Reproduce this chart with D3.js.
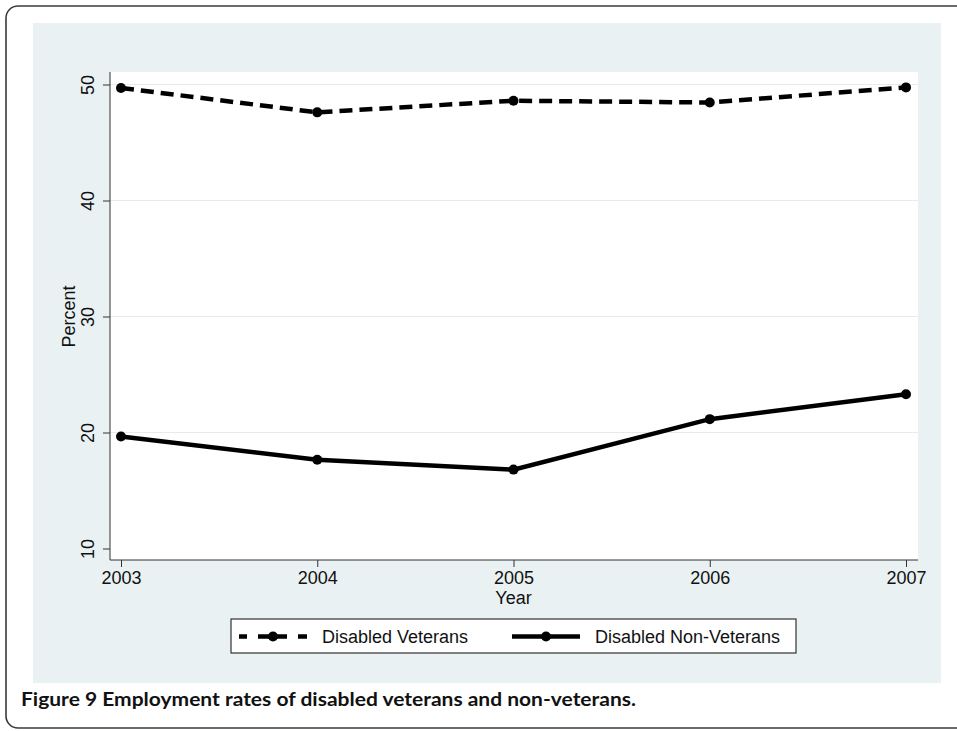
<!DOCTYPE html>
<html>
<head>
<meta charset="utf-8">
<script src="https://cdn.jsdelivr.net/npm/d3@7"></script>
<style>
  html, body { margin: 0; padding: 0; background: #ffffff; }
  svg { display: block; }
  text { font-family: "Liberation Sans", Arial, Helvetica, sans-serif; fill: #111; }
</style>
</head>
<body>
<svg id="chart" width="957" height="731"></svg>
<script>
// ---- data ----
const years = [2003, 2004, 2005, 2006, 2007];
const veterans = [49.7, 47.6, 48.6, 48.45, 49.75];
const nonVeterans = [19.65, 17.65, 16.8, 21.15, 23.3];
const yTicks = [10, 20, 30, 40, 50];
const seriesNames = ["Disabled Veterans", "Disabled Non-Veterans"];
const caption = "Figure 9 Employment rates of disabled veterans and non-veterans.";

const svg = d3.select("#chart");

// outer frame
svg.append("rect")
  .attr("x", 6).attr("y", 6).attr("width", 1000).attr("height", 722)
  .attr("rx", 12).attr("ry", 12)
  .attr("fill", "#ffffff").attr("stroke", "#3a3a3a").attr("stroke-width", 1.6);

// graph background
svg.append("rect")
  .attr("x", 33).attr("y", 23).attr("width", 908).attr("height", 660)
  .attr("fill", "#e9f1f3");

// plot region
const plot = { left: 110, top: 72, right: 918, bottom: 560 };
svg.append("rect")
  .attr("x", plot.left).attr("y", plot.top)
  .attr("width", plot.right - plot.left).attr("height", plot.bottom - plot.top)
  .attr("fill", "#ffffff");

const x = d3.scaleLinear().domain([2003, 2007]).range([121, 906]);
const y = d3.scaleLinear().domain([10, 50]).range([548.5, 84.5]);

// gridlines
svg.append("g").selectAll("line").data(yTicks.filter(d => d > 10)).join("line")
  .attr("x1", plot.left).attr("x2", plot.right)
  .attr("y1", d => y(d)).attr("y2", d => y(d))
  .attr("stroke", "#e3ecef").attr("stroke-width", 1.2);

// y axis
const yAxis = svg.append("g")
  .attr("transform", `translate(${plot.left},0)`)
  .call(d3.axisLeft(y).tickValues(yTicks).tickSize(7).tickPadding(6).tickFormat(d3.format("d")));
yAxis.select(".domain").attr("d", `M0,${plot.top}V${plot.bottom}`).attr("stroke", "#333");
yAxis.selectAll(".tick line").attr("stroke", "#333");
yAxis.selectAll(".tick text")
  .attr("font-size", 18)
  .attr("fill", "#111")
  .attr("text-anchor", "middle")
  .attr("dy", 0)
  .attr("x", 0)
  .attr("transform", "translate(-16,0) rotate(-90)");

// x axis
const xAxis = svg.append("g")
  .attr("transform", `translate(0,${plot.bottom})`)
  .call(d3.axisBottom(x).tickValues(years).tickSize(7).tickPadding(6).tickFormat(d3.format("d")));
xAxis.select(".domain").attr("d", `M${plot.left},0H${plot.right}`).attr("stroke", "#333");
xAxis.selectAll(".tick line").attr("stroke", "#333");
xAxis.selectAll(".tick text").attr("font-size", 18).attr("fill", "#111").attr("dy", 0).attr("y", 24);

// axis titles
svg.append("text")
  .attr("transform", `translate(75,${y(30)}) rotate(-90)`)
  .attr("text-anchor", "middle").attr("font-size", 18).text("Percent");
svg.append("text")
  .attr("x", x(2005)).attr("y", 604)
  .attr("text-anchor", "middle").attr("font-size", 18).text("Year");

// lines
const line = d3.line().x((d, i) => x(years[i])).y(d => y(d));
svg.append("path").datum(veterans)
  .attr("d", line).attr("fill", "none").attr("stroke", "#000")
  .attr("stroke-width", 4.5).attr("stroke-dasharray", "13,7");
svg.append("path").datum(nonVeterans)
  .attr("d", line).attr("fill", "none").attr("stroke", "#000")
  .attr("stroke-width", 4.5);

[veterans, nonVeterans].forEach(s => {
  svg.append("g").selectAll("circle").data(s).join("circle")
    .attr("cx", (d, i) => x(years[i])).attr("cy", d => y(d))
    .attr("r", 5).attr("fill", "#000");
});

// legend
const lg = svg.append("g");
lg.append("rect").attr("x", 231).attr("y", 619).attr("width", 565).attr("height", 34)
  .attr("fill", "#ffffff").attr("stroke", "#333").attr("stroke-width", 1.2);
const ly = 636.5;
const legendItems = [
  { x0: 239, x1: 307, tx: 322, dash: "8,11,29,11,9" },
  { x0: 512, x1: 580, tx: 595, dash: null }
];
legendItems.forEach((it, i) => {
  const l = lg.append("line").attr("x1", it.x0).attr("x2", it.x1).attr("y1", ly).attr("y2", ly)
    .attr("stroke", "#000").attr("stroke-width", 4.5);
  if (it.dash) l.attr("stroke-dasharray", it.dash);
  lg.append("circle").attr("cx", (it.x0 + it.x1) / 2).attr("cy", ly).attr("r", 5).attr("fill", "#000");
  lg.append("text").attr("x", it.tx).attr("y", 643).attr("font-size", 18).text(seriesNames[i]);
});

// caption
svg.append("text")
  .attr("x", 21).attr("y", 706)
  .attr("font-family", "Lato, 'Open Sans', sans-serif")
  .attr("font-weight", "bold").attr("font-size", 18)
  .attr("textLength", 615).attr("lengthAdjust", "spacingAndGlyphs")
  .style("font-family", "Lato, 'Open Sans', sans-serif")
  .text(caption);
</script>
</body>
</html>
